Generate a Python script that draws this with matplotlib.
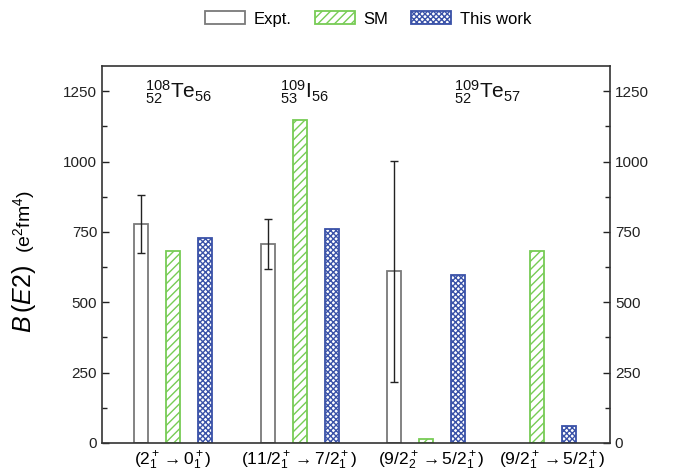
import numpy as np
import matplotlib
matplotlib.use("Agg")
import matplotlib.pyplot as plt
from matplotlib.patches import Patch

plt.rcParams['font.family'] = ['Liberation Sans', 'DejaVu Sans']
plt.rcParams['mathtext.fontset'] = 'custom'
plt.rcParams['mathtext.rm'] = 'Liberation Sans'
plt.rcParams['mathtext.it'] = 'Liberation Sans:italic'
plt.rcParams['mathtext.bf'] = 'Liberation Sans:bold'
plt.rcParams['hatch.linewidth'] = 1.0

# ---- data ----
transitions = ['(2$^+_1$$\\,\\mathbf{\u2192}\\,$0$^+_1$)',
               '(11/2$^+_1$$\\,\\mathbf{\u2192}\\,$7/2$^+_1$)',
               '(9/2$^+_2$$\\,\\mathbf{\u2192}\\,$5/2$^+_1$)',
               '(9/2$^+_1$$\\,\\mathbf{\u2192}\\,$5/2$^+_1$)']
expt = [778, 708, 611, np.nan]
expt_err_low = [101, 90, 394, np.nan]
expt_err_high = [102, 89, 390, np.nan]
sm = [681, 1147, 13, 684]
this_work = [730, 760, 597, 60]
nuclei = [r'${}^{108}_{52}\mathrm{Te}_{56}$',
          r'${}^{109}_{53}\mathrm{I}_{56}$',
          r'${}^{109}_{52}\mathrm{Te}_{57}$']

# ---- layout ----
group_x = np.array([0.0, 1.0, 2.0, 2.874])
label_x = [0.0, 1.0, 2.04, 2.99]
nuc_x = [-0.22, 0.843, 2.22]
off = 0.252
w = 0.11

fig = plt.figure(figsize=(6.78, 4.76), dpi=100)
ax = fig.add_axes([102/678, 1-443/476, (610-102)/678, (443-66)/476])

grey = '#7a7a7a'
green = '#77cc55'
blue = '#3a52a8'

ax.bar(group_x - off, expt, width=w, facecolor='white', edgecolor=grey, linewidth=1.3)
ax.errorbar(group_x - off, expt, yerr=[expt_err_low, expt_err_high], fmt='none',
            ecolor='#222222', elinewidth=1.0, capsize=3, capthick=1.0)
ax.bar(group_x, sm, width=w, facecolor='white', edgecolor=green, hatch='////', linewidth=1.3)
ax.bar(group_x + off, this_work, width=w, facecolor='white', edgecolor=blue, hatch='xxxxxx', linewidth=1.3)

ax.set_xlim(-0.559, 3.449)
ax.set_ylim(0, 1340)
ax.set_yticks([0, 250, 500, 750, 1000, 1250])
ax.set_yticks(np.arange(125, 1340, 250), minor=True)
ax.tick_params(axis='y', which='both', direction='in', left=True, right=True,
               labelleft=True, labelright=True, labelsize=11, colors='#222222')
ax.tick_params(axis='y', which='major', length=5, width=1)
ax.tick_params(axis='y', which='minor', length=3.5, width=1)
ax.set_xticks(label_x)
ax.set_xticklabels(transitions, fontsize=12.5)
ax.tick_params(axis='x', length=0, pad=5)
for s in ax.spines.values():
    s.set_color('#333333')
    s.set_linewidth(1.2)

for x, t in zip(nuc_x, nuclei):
    ax.text(x, 1225, t, fontsize=15, ha='left', va='baseline', color='#111111')

fig.text(24/678, 1-299/476, r'$B\,(E2)$', rotation=90, fontsize=18, ha='center', va='center')
fig.text(24/678, 1-222/476, r'(e$^2$fm$^4$)', rotation=90, fontsize=14, ha='center', va='center')

handles = [Patch(facecolor='white', edgecolor=grey, linewidth=1.3, label='Expt.'),
           Patch(facecolor='white', edgecolor=green, hatch='////', linewidth=1.3, label='SM'),
           Patch(facecolor='white', edgecolor=blue, hatch='xxxxxx', linewidth=1.3, label='This work')]
fig.legend(handles=handles, loc='center', bbox_to_anchor=(368/678, 1-19/476), ncol=3,
           frameon=False, fontsize=12, handlelength=2.4, handleheight=0.8,
           columnspacing=1.4, handletextpad=0.5)

fig.savefig('out.png', dpi=100)
